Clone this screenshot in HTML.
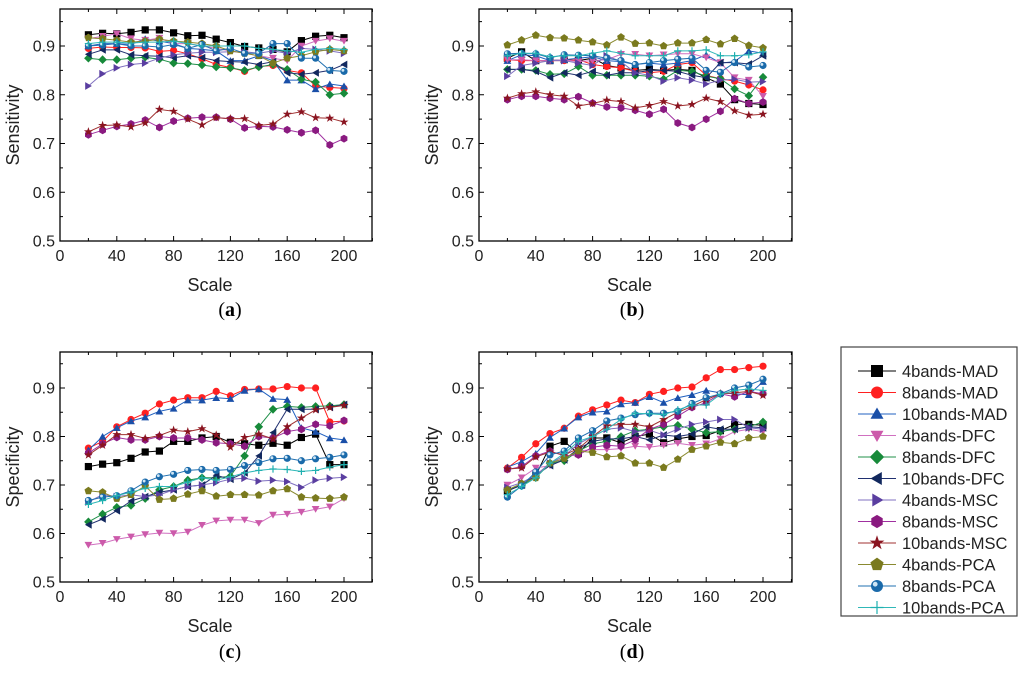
<!DOCTYPE html>
<html><head><meta charset="utf-8">
<style>
html,body{margin:0;padding:0;background:#fff;}
svg{display:block;font-family:"Liberation Sans",Arial,sans-serif;}
</style></head>
<body>
<svg id="chart" width="1024" height="673" viewBox="0 0 1024 673" xmlns="http://www.w3.org/2000/svg"></svg>
<script>
const xValues=[20,30,40,50,60,70,80,90,100,110,120,130,140,150,160,170,180,190,200];
const seriesNames=["4bands-MAD","8bands-MAD","10bands-MAD","4bands-DFC","8bands-DFC","10bands-DFC","4bands-MSC","8bands-MSC","10bands-MSC","4bands-PCA","8bands-PCA","10bands-PCA"];
const xTicks=[0,40,80,120,160,200];
const yTicks=[0.5,0.6,0.7,0.8,0.9];
const yTickLabels=["0.5","0.6","0.7","0.8","0.9"];
const panelA=[
[.923,.926,.925,.928,.933,.933,.927,.921,.922,.914,.907,.899,.896,.893,.888,.911,.920,.922,.917],
[.895,.898,.897,.897,.896,.889,.891,.884,.874,.862,.856,.848,.858,.860,.850,.845,.818,.815,.813],
[.900,.905,.905,.903,.915,.910,.905,.895,.893,.890,.870,.870,.880,.870,.830,.830,.812,.822,.818],
[.915,.920,.925,.915,.912,.916,.905,.905,.900,.895,.890,.885,.880,.875,.870,.900,.910,.915,.910],
[.875,.872,.872,.875,.877,.873,.865,.864,.861,.857,.855,.850,.857,.862,.852,.832,.826,.800,.803],
[.883,.892,.892,.882,.880,.879,.876,.880,.876,.870,.868,.867,.862,.868,.845,.842,.845,.850,.862],
[.818,.843,.855,.862,.865,.875,.882,.885,.887,.887,.888,.888,.885,.890,.885,.895,.893,.890,.885],
[.718,.727,.735,.740,.748,.733,.746,.752,.754,.754,.750,.732,.735,.734,.728,.722,.727,.697,.710],
[.724,.737,.738,.734,.742,.770,.766,.750,.738,.753,.751,.751,.737,.740,.760,.765,.753,.752,.744],
[.917,.915,.912,.908,.910,.914,.910,.908,.905,.900,.890,.885,.880,.865,.875,.880,.888,.893,.890],
[.900,.902,.905,.900,.900,.898,.903,.895,.903,.890,.895,.885,.885,.905,.905,.875,.875,.850,.848],
[.905,.908,.908,.906,.908,.908,.910,.905,.900,.900,.900,.900,.895,.893,.890,.887,.893,.895,.893]];
const panelB=[
[.875,.888,.870,.870,.872,.870,.875,.860,.855,.850,.852,.850,.852,.850,.835,.822,.790,.782,.780],
[.872,.870,.870,.870,.870,.872,.862,.858,.855,.848,.845,.848,.862,.866,.840,.833,.828,.820,.810],
[.870,.882,.880,.870,.872,.875,.878,.870,.868,.862,.865,.862,.865,.870,.882,.865,.868,.890,.885],
[.872,.872,.870,.870,.872,.868,.870,.872,.883,.883,.880,.882,.884,.884,.876,.866,.835,.830,.797],
[.852,.852,.850,.842,.843,.858,.840,.840,.840,.840,.838,.832,.850,.848,.838,.833,.812,.798,.836],
[.852,.852,.848,.835,.845,.840,.848,.840,.845,.845,.850,.850,.848,.840,.835,.866,.866,.863,.880],
[.838,.860,.865,.870,.870,.865,.860,.880,.868,.845,.840,.828,.835,.830,.822,.830,.832,.826,.827],
[.790,.797,.797,.793,.790,.796,.783,.775,.773,.768,.760,.770,.742,.733,.750,.766,.792,.782,.785],
[.793,.802,.806,.800,.797,.777,.782,.789,.786,.773,.778,.786,.777,.780,.793,.786,.767,.758,.760],
[.902,.912,.922,.917,.916,.912,.908,.902,.918,.905,.906,.900,.906,.906,.913,.904,.915,.901,.896],
[.884,.885,.884,.876,.882,.881,.880,.875,.870,.862,.866,.870,.873,.875,.850,.846,.866,.857,.860],
[.880,.885,.885,.878,.880,.880,.885,.890,.885,.880,.880,.880,.890,.890,.892,.880,.880,.882,.888]];
const panelC=[
[.738,.743,.746,.755,.768,.770,.790,.790,.797,.800,.788,.785,.782,.786,.782,.798,.805,.742,.742],
[.776,.790,.820,.835,.848,.867,.875,.880,.880,.893,.884,.897,.898,.898,.903,.900,.900,.830,.832],
[.772,.800,.818,.832,.840,.852,.858,.875,.875,.880,.878,.895,.898,.878,.876,.818,.810,.797,.793],
[.576,.580,.588,.593,.598,.601,.600,.603,.617,.626,.628,.628,.621,.638,.640,.644,.650,.655,.672],
[.624,.640,.654,.658,.672,.690,.697,.710,.715,.715,.718,.760,.820,.856,.862,.860,.862,.863,.866],
[.618,.630,.647,.667,.676,.685,.690,.697,.700,.720,.712,.725,.760,.808,.856,.856,.856,.860,.866],
[.665,.680,.676,.680,.676,.680,.690,.697,.700,.705,.712,.714,.708,.710,.707,.695,.710,.714,.716],
[.766,.785,.798,.793,.793,.800,.797,.797,.793,.787,.785,.780,.800,.797,.810,.815,.825,.822,.833],
[.762,.782,.804,.804,.796,.802,.813,.810,.816,.803,.778,.798,.805,.795,.820,.838,.855,.860,.864],
[.688,.685,.672,.680,.698,.670,.672,.681,.688,.677,.680,.680,.679,.688,.692,.675,.673,.672,.675],
[.668,.675,.678,.688,.706,.717,.722,.730,.732,.730,.732,.740,.746,.754,.755,.750,.754,.757,.762],
[.660,.668,.678,.685,.693,.697,.697,.706,.715,.710,.717,.725,.730,.733,.732,.728,.730,.737,.742]];
const panelD=[
[.688,.700,.720,.780,.790,.765,.797,.797,.787,.800,.805,.787,.795,.800,.802,.812,.825,.825,.823],
[.735,.757,.785,.806,.817,.842,.855,.865,.875,.870,.887,.893,.900,.902,.921,.938,.938,.942,.945],
[.737,.748,.765,.798,.817,.840,.850,.852,.867,.870,.882,.870,.880,.886,.895,.890,.888,.886,.913],
[.700,.715,.735,.740,.755,.770,.773,.773,.775,.780,.778,.782,.786,.782,.785,.795,.810,.815,.810],
[.690,.700,.715,.745,.750,.770,.785,.790,.800,.812,.815,.820,.823,.815,.808,.810,.815,.820,.830],
[.688,.700,.720,.740,.752,.775,.790,.795,.795,.800,.793,.803,.800,.805,.820,.815,.815,.820,.818],
[.695,.705,.720,.745,.760,.785,.800,.815,.818,.810,.813,.803,.815,.825,.830,.835,.835,.818,.815],
[.732,.738,.760,.770,.760,.762,.778,.782,.780,.793,.815,.825,.842,.860,.870,.888,.882,.893,.888],
[.733,.735,.758,.768,.762,.775,.800,.822,.825,.825,.820,.835,.850,.862,.876,.888,.890,.893,.885],
[.690,.703,.715,.745,.755,.770,.767,.758,.760,.745,.745,.736,.753,.773,.780,.788,.785,.797,.800],
[.675,.698,.727,.762,.770,.797,.812,.832,.838,.845,.848,.848,.852,.868,.880,.888,.900,.906,.918],
[.680,.697,.715,.745,.765,.790,.800,.815,.835,.848,.847,.845,.855,.865,.865,.887,.895,.898,.895]];

const colors=["#000000","#ff2020","#1a4fa8","#cc5aaa","#178a3a","#12285e","#5a3ea0","#8a1a80","#8a1420","#7a7a1e","#1a6aaa","#20b0b0"];
const lineColors=["#000000","#ff2020","#2060c0","#d070c0","#20904a","#203070","#8070c0","#a030a0","#a03030","#8a8a30","#2070b0","#30b8b8"];
const shapes=["square","circle","up","down","diamond","left","right","hex","star","pent","ball","plus"];
const NS="http://www.w3.org/2000/svg";
const svg=document.getElementById('chart');
function mk(tag,attrs,parent){const e=document.createElementNS(NS,tag);for(const k in attrs)e.setAttribute(k,attrs[k]);(parent||svg).appendChild(e);return e;}
function poly(n,r,rot,cx,cy){let p=[];for(let i=0;i<n;i++){const a=rot+i*2*Math.PI/n;p.push((cx+r*Math.cos(a)).toFixed(1)+","+(cy+r*Math.sin(a)).toFixed(1));}return p.join(" ");}
function marker(g,shape,cx,cy,c,s){
  let e;
  if(shape==="square")e=mk('rect',{x:cx-s,y:cy-s,width:2*s,height:2*s,fill:c},g);
  else if(shape==="circle")e=mk('circle',{cx:cx,cy:cy,r:s,fill:c},g);
  else if(shape==="up")e=mk('polygon',{points:poly(3,s*1.25,-Math.PI/2,cx,cy+1),fill:c},g);
  else if(shape==="down")e=mk('polygon',{points:poly(3,s*1.25,Math.PI/2,cx,cy-1),fill:c},g);
  else if(shape==="diamond")e=mk('polygon',{points:poly(4,s*1.2,0,cx,cy),fill:c},g);
  else if(shape==="left")e=mk('polygon',{points:poly(3,s*1.25,Math.PI,cx+1,cy),fill:c},g);
  else if(shape==="right")e=mk('polygon',{points:poly(3,s*1.25,0,cx-1,cy),fill:c},g);
  else if(shape==="hex")e=mk('polygon',{points:poly(6,s*1.1,Math.PI/2,cx,cy),fill:c},g);
  else if(shape==="pent")e=mk('polygon',{points:poly(5,s*1.15,-Math.PI/2,cx,cy),fill:c},g);
  else if(shape==="star"){let p=[];for(let i=0;i<10;i++){const r=i%2?s*0.5:s*1.3;const a=-Math.PI/2+i*Math.PI/5;p.push((cx+r*Math.cos(a)).toFixed(1)+","+(cy+r*Math.sin(a)).toFixed(1));}e=mk('polygon',{points:p.join(" "),fill:c},g);}
  else if(shape==="ball"){e=mk('circle',{cx:cx,cy:cy,r:s,fill:c},g);mk('circle',{cx:cx-s*0.3,cy:cy-s*0.3,r:s*0.4,fill:"#cfe6f5"},g);}
  else if(shape==="plus"){e=mk('path',{d:`M${cx-s} ${cy}H${cx+s}M${cx} ${cy-s}V${cy+s}`,stroke:c,"stroke-width":1.2,fill:"none"},g);}
  return e;
}
const panels=[
 {key:"a",data:panelA,x0:60,x200:344,right:372,top:9,y05:241,y09:46,ytitle:"Sensitivity",lx:230,ly:316},
 {key:"b",data:panelB,x0:479,x200:763,right:792,top:9,y05:241,y09:46,ytitle:"Sensitivity",lx:632,ly:316},
 {key:"c",data:panelC,x0:60,x200:344,right:372,top:352,y05:582,y09:388,ytitle:"Specificity",lx:230,ly:658},
 {key:"d",data:panelD,x0:479,x200:763,right:792,top:352,y05:582,y09:388,ytitle:"Specificity",lx:632,ly:658}];
panels.forEach(P=>{
  const g=mk('g',{});
  
  
  const xs=v=>P.x0+(v/200)*(P.x200-P.x0);
  const ys=v=>P.y05-(v-0.5)/0.4*(P.y05-P.y09);
  const frame=mk('rect',{x:P.x0,y:P.top,width:P.right-P.x0,height:P.y05-P.top,fill:"none",stroke:"#000","stroke-width":1.3},g);
  
  
  for(let v=0;v<=220;v+=20){const x=xs(v);const L=v%40===0?5:3;
    mk('line',{x1:x,y1:P.y05,x2:x,y2:P.y05-L,stroke:"#000"},g);
    mk('line',{x1:x,y1:P.top,x2:x,y2:P.top+L,stroke:"#000"},g);}
  xTicks.forEach(v=>{const t=mk('text',{x:xs(v),y:P.y05+20,"font-size":16,"text-anchor":"middle",fill:"#222"},g);t.textContent=v;
    });
  for(let v=0.5;v<0.98;v+=0.05){const y=ys(v);const maj=Math.abs(Math.round(v*10)-v*10)<0.01;const L=maj?5:3;
    mk('line',{x1:P.x0,y1:y,x2:P.x0+L,y2:y,stroke:"#000"},g);
    mk('line',{x1:P.right,y1:y,x2:P.right-L,y2:y,stroke:"#000"},g);}
  yTicks.forEach((v,i)=>{const t=mk('text',{x:P.x0-5,y:ys(v)+5.5,"font-size":16,"text-anchor":"end",fill:"#222"},g);t.textContent=yTickLabels[i];
    });
  const xt=mk('text',{x:(P.x0+P.right)/2-6,y:P.y05+50,"font-size":18,"text-anchor":"middle",fill:"#222"},g);xt.textContent="Scale";
  
  const cy=(P.top+P.y05)/2;
  const yt=mk('text',{x:P.x0-41,y:cy,"font-size":18,"text-anchor":"middle",fill:"#222",transform:`rotate(-90 ${P.x0-41} ${cy})`},g);yt.textContent=P.ytitle;
  
  const pl=mk('text',{x:P.lx,y:P.ly,"font-size":20,"text-anchor":"middle",fill:"#000","font-family":"Liberation Serif, serif"},g);
  pl.innerHTML='(<tspan font-weight="bold">'+P.key+'</tspan>)';
  
  P.data.forEach((vals,si)=>{
    const sg=mk('g',{},g);
    
    
    const pts=vals.map((v,i)=>xs(xValues[i]).toFixed(1)+","+ys(v).toFixed(1)).join(" ");
    mk('polyline',{points:pts,fill:"none",stroke:lineColors[si],"stroke-width":1},sg);
    vals.forEach((v,i)=>{const m=marker(sg,shapes[si],xs(xValues[i]),ys(v),colors[si],3.6);
      
      });
  });
});
const lg=mk('g',{});


mk('rect',{x:841,y:347,width:176,height:269,fill:"#fff",stroke:"#444","stroke-width":1.2},lg);
seriesNames.forEach((n,i)=>{
  const y=371+i*21.5;
  const eg=mk('g',{},lg);
  
  
  mk('line',{x1:858,y1:y,x2:896,y2:y,stroke:lineColors[i],"stroke-width":1},eg);
  marker(eg,shapes[i],877,y,colors[i],shapes[i]==="plus"?6.5:6);
  const t=mk('text',{x:902,y:y+6,"font-size":16.5,fill:"#222"},eg);t.textContent=n;
});
</script>
</body></html>
